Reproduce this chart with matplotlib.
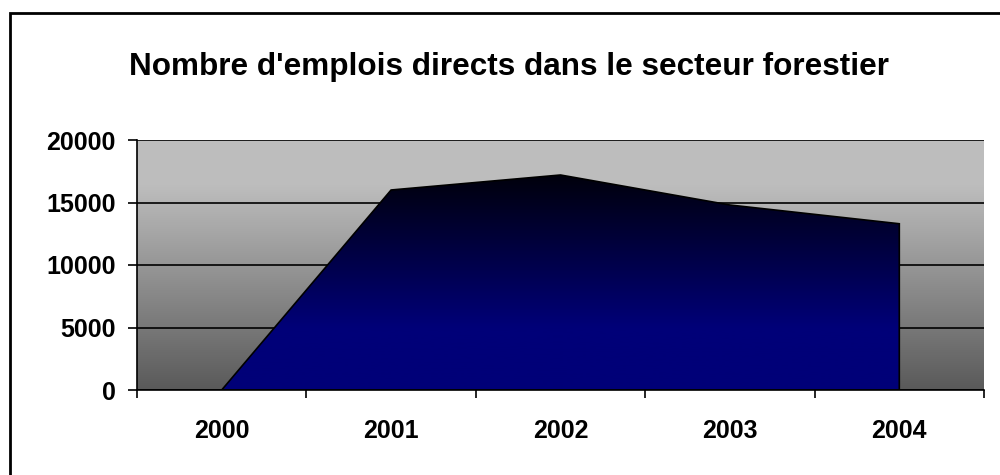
import numpy as np
import matplotlib
matplotlib.use("Agg")
import matplotlib.pyplot as plt
from matplotlib.patches import Rectangle, Polygon
from matplotlib.colors import LinearSegmentedColormap

years = ["2000", "2001", "2002", "2003", "2004"]
jobs = [0, 16000, 17200, 14800, 13300]
yticks = [0, 5000, 10000, 15000, 20000]
title = "Nombre d'emplois directs dans le secteur forestier"

plt.rcParams['font.family'] = ['Liberation Sans', 'DejaVu Sans']

fig = plt.figure(figsize=(10, 4.75), dpi=100)
ax = fig.add_axes([0.137, 1 - 390 / 475, 0.847, 250 / 475])

x = np.arange(len(years))
ax.set_xlim(-0.5, len(years) - 0.5)
ax.set_ylim(0, 20000)

# background gradient
bg = LinearSegmentedColormap.from_list("bg", [(0, "#5a5a5a"), (0.82, "#bdbdbd"), (1, "#bebebe")])
grad = np.linspace(0, 1, 256).reshape(-1, 1)
ax.imshow(grad, extent=[-0.5, len(years) - 0.5, 0, 20000], origin="lower",
          aspect="auto", cmap=bg, zorder=0)

# grid
for v in yticks:
    ax.axhline(v, color="black", lw=1.2, zorder=1)

# area gradient
ar = LinearSegmentedColormap.from_list("ar", [(0, "#000078"), (0.25, "#000078"), (0.85, "#00000e"), (1, "#000008")])
poly_xy = [(x[0], 0)] + list(zip(x, jobs)) + [(x[-1], 0)]
poly = Polygon(poly_xy, closed=True, facecolor="none", edgecolor="black", lw=1.2, zorder=3)
ax.add_patch(poly)
im = ax.imshow(grad, extent=[-0.5, len(years) - 0.5, 0, 20000], origin="lower",
               aspect="auto", cmap=ar, zorder=2)
clip = Polygon(poly_xy, closed=True, transform=ax.transData, facecolor="none", edgecolor="none")
ax.add_patch(clip)
im.set_clip_path(clip)

# spines
for s in ["top", "right"]:
    ax.spines[s].set_visible(False)
for s in ["left", "bottom"]:
    ax.spines[s].set_linewidth(1.2)
    ax.spines[s].set_zorder(4)

ax.set_yticks(yticks)
ax.set_yticklabels([str(v) for v in yticks], fontsize=18, fontweight="bold")
ax.tick_params(axis="y", length=6.5, width=1.2, pad=9)

ax.set_xticks(np.arange(-0.5, len(years), 1.0))
ax.set_xticklabels([])
ax.tick_params(axis="x", which="major", length=6, width=1.2)
ax.set_xticks(x, minor=True)
ax.set_xticklabels(years, minor=True, fontsize=18, fontweight="bold")
ax.tick_params(axis="x", which="minor", length=0, pad=21)

fig.text(0.509, 1 - 75 / 475, title, ha="center", va="baseline",
         fontsize=22.7, fontweight="bold")

fig.patches.append(Rectangle((0.01, -0.2), 1.5, 1 - 13 / 475 + 0.2, transform=fig.transFigure,
                             fill=False, edgecolor="black", lw=2, zorder=10))

fig.savefig("out.png", dpi=100)
